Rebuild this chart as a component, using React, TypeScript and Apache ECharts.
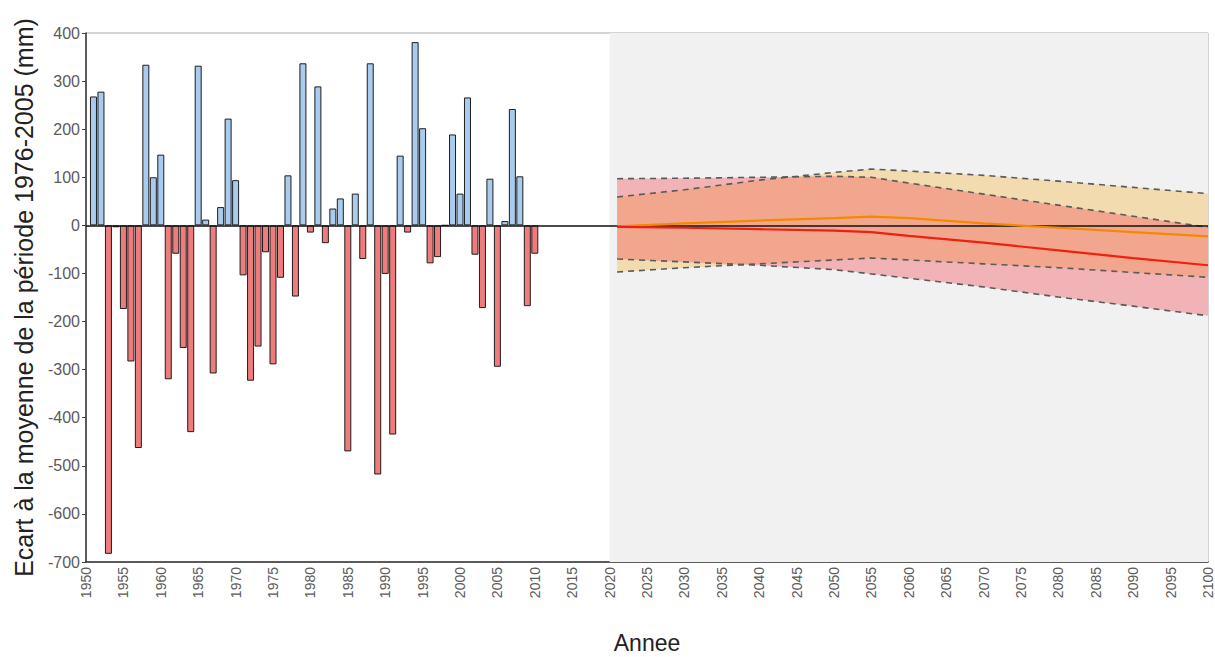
import React, { useEffect, useRef } from "react";
import * as echarts from "echarts";

// Observed yearly anomalies (mm), 1951-2010
const years: number[] = [
  1951, 1952, 1953, 1954, 1955, 1956, 1957, 1958, 1959, 1960,
  1961, 1962, 1963, 1964, 1965, 1966, 1967, 1968, 1969, 1970,
  1971, 1972, 1973, 1974, 1975, 1976, 1977, 1978, 1979, 1980,
  1981, 1982, 1983, 1984, 1985, 1986, 1987, 1988, 1989, 1990,
  1991, 1992, 1993, 1994, 1995, 1996, 1997, 1998, 1999, 2000,
  2001, 2002, 2003, 2004, 2005, 2006, 2007, 2008, 2009, 2010,
];
const anomalies: number[] = [
  268, 278, -683, -4, -174, -283, -463, 334, 100, 147,
  -320, -59, -255, -430, 332, 12, -308, 38, 222, 94,
  -104, -323, -252, -56, -289, -109, 104, -148, 337, -15,
  289, -37, 35, 56, -470, 66, -70, 337, -518, -101,
  -435, 145, -15, 381, 202, -79, -66, 0, 189, 66,
  266, -61, -172, 97, -294, 9, 242, 102, -168, -59,
];

// Projections
const projYears: number[] = [2021, 2030, 2040, 2050, 2055, 2060, 2070, 2080, 2090, 2100];
const orangeTop: number[] = [59, 74, 94, 110, 117, 113, 104, 92, 79, 66];
const orangeMid: number[] = [-2, 4, 10, 15, 18, 15, 4, -5, -14, -23];
const orangeBot: number[] = [-97, -88, -80, -72, -68, -72, -80, -88, -98, -108];
const redTop: number[] = [97, 98, 100, 102, 100, 88, 65, 42, 19, -4];
const redMid: number[] = [-3, -5, -8, -11, -14, -22, -36, -52, -68, -83];
const redBot: number[] = [-70, -76, -83, -92, -101, -110, -128, -149, -168, -188];

const projectionStart = 2020;
const projectionEnd = 2100;

const pair = (vals: number[]) => projYears.map((y, i) => [y, vals[i]]);

const bandSeries = (top: number[], bot: number[], color: string, z: number) => ({
  type: "custom",
  z,
  silent: true,
  data: [0],
  renderItem: (_params: any, api: any) => {
    const upper = projYears.map((y, i) => api.coord([y, top[i]]));
    const lower = projYears.map((y, i) => api.coord([y, bot[i]])).reverse();
    return {
      type: "polygon",
      shape: { points: upper.concat(lower) },
      style: { fill: color },
    };
  },
});

export default function App() {
  const ref = useRef<HTMLDivElement>(null);
  useEffect(() => {
    if (!ref.current) return;
    const chart = echarts.init(ref.current, undefined, { renderer: "svg" });
    const font = "Liberation Sans, Arial, sans-serif";
    const dashed = (data: number[][]) => ({
      type: "line",
      data,
      symbol: "none",
      z: 4,
      silent: true,
      lineStyle: { color: "#5a5a5a", width: 1.6, type: [6, 5] },
    });
    chart.setOption({
      animation: false,
      textStyle: { fontFamily: font },
      grid: {
        left: 86,
        right: 7,
        top: 33,
        bottom: 95,
        show: true,
        borderColor: "#a8a8a8",
        borderWidth: 1,
        backgroundColor: "transparent",
        outerBoundsMode: "none",
        containLabel: false,
      },
      xAxis: {
        type: "value",
        min: 1950,
        max: 2100,
        interval: 5,
        name: "Annee",
        nameLocation: "middle",
        nameGap: 69,
        nameTextStyle: { fontSize: 23, color: "#222", fontFamily: font },
        splitLine: { show: false },
        axisLine: { show: true, onZero: false, lineStyle: { color: "#333", width: 1.5 } },
        axisTick: { show: false },
        axisLabel: {
          rotate: 90,
          fontSize: 14,
          color: "#5a5a5a",
          margin: 5,
          fontFamily: font,
          formatter: (v: number) => String(v),
        },
      },
      yAxis: {
        type: "value",
        min: -700,
        max: 400,
        interval: 100,
        name: "Ecart à la moyenne de la période 1976-2005 (mm)",
        nameLocation: "middle",
        nameGap: 50,
        nameTextStyle: { fontSize: 25, color: "#222", fontFamily: font },
        splitLine: { show: false },
        axisLine: { show: true, onZero: false, lineStyle: { color: "#333", width: 1.5 } },
        axisTick: { show: true, length: 4, lineStyle: { color: "#444" } },
        axisLabel: { fontSize: 16, color: "#5a5a5a", margin: 6, fontFamily: font },
      },
      series: [
        {
          type: "line",
          z: 0,
          data: [],
          silent: true,
          markArea: {
            silent: true,
            itemStyle: { color: "#f1f1f1" },
            data: [[{ xAxis: projectionStart }, { xAxis: projectionEnd }]],
          },
        },
        {
          type: "bar",
          z: 1,
          barWidth: 7,
          data: years.map((y, i) => [y, anomalies[i]]),
          itemStyle: {
            color: (p: any) => (p.value[1] >= 0 ? "#a9cbed" : "#ee7c7c"),
            borderColor: "#1e1e1e",
            borderWidth: 1,
          },
          markLine: {
            silent: true,
            symbol: "none",
            label: { show: false },
            lineStyle: { color: "#111", width: 1.5, type: "solid" },
            data: [{ yAxis: 0 }],
          },
        },
        bandSeries(orangeTop, orangeBot, "rgba(244,193,93,0.45)", 2),
        bandSeries(redTop, redBot, "rgba(242,87,92,0.4)", 3),
        dashed(pair(orangeTop)),
        dashed(pair(orangeBot)),
        dashed(pair(redTop)),
        dashed(pair(redBot)),
        {
          type: "line",
          data: pair(orangeMid),
          symbol: "none",
          z: 5,
          lineStyle: { color: "#f28a00", width: 2.2 },
        },
        {
          type: "line",
          data: pair(redMid),
          symbol: "none",
          z: 5,
          lineStyle: { color: "#ee2010", width: 2.2 },
        },
      ],
    });
    return () => chart.dispose();
  }, []);
  return (
    <div
      ref={ref}
      style={{ position: "fixed", left: 0, top: 0, width: 1215, height: 657, background: "#fff" }}
    />
  );
}
